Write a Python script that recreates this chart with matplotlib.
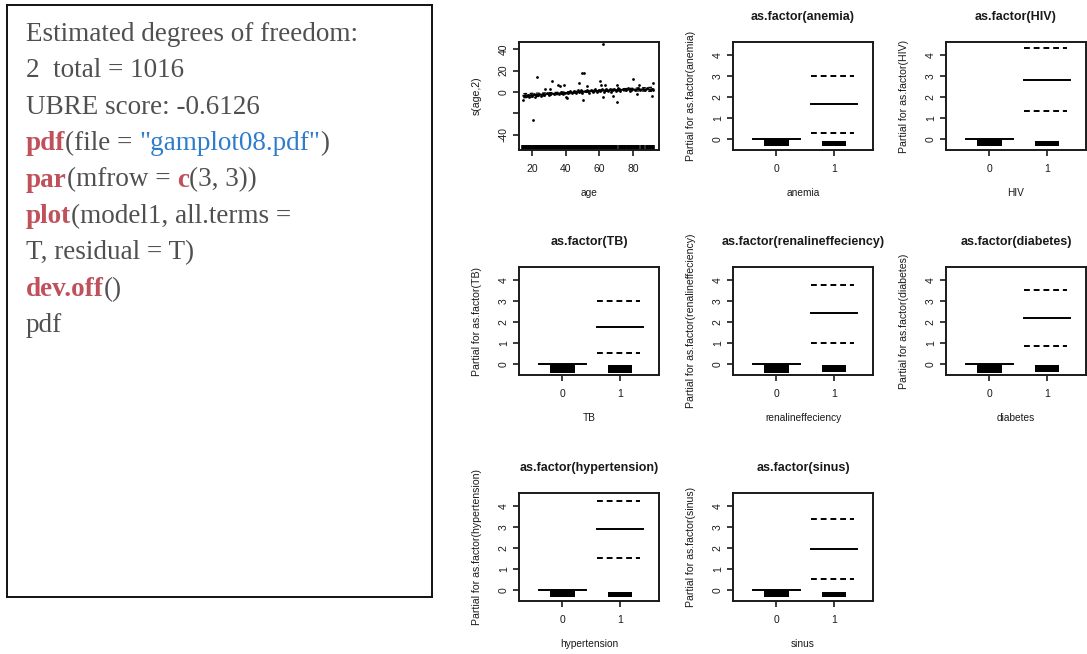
import matplotlib.pyplot as plt

W, H = 1087, 654

# listing printed next to the term plots
summary_lines = [
    [("Estimated degrees of freedom:", "txt")],
    [("2  total = 1016", "txt")],
    [("UBRE score: -0.6126", "txt")],
    [("pdf", "kw"), ("(file = ", "txt"), ('"gamplot08.pdf"', "str"), (")", "txt")],
    [("par", "kw"), ("(mfrow = ", "txt"), ("c", "kw"), ("(3, 3))", "txt")],
    [("plot", "kw"), ("(model1, all.terms =", "txt")],
    [("T, residual = T)", "txt")],
    [("dev.off", "kw"), ("()", "txt")],
    [("pdf", "txt")],
]
code_colors = {"txt": "#505050", "kw": "#c0505a", "str": "#2f7ccc"}

# smooth term s(age, 2)
fit_age = [15, 25, 35, 45, 55, 65, 75, 85, 92]
fit_sage = [-3.6, -2.6, -1.5, -0.4, 0.6, 1.4, 2.0, 2.3, 2.4]
fit_se = [2.0, 1.5, 1.1, 0.9, 0.8, 0.9, 1.1, 1.5, 2.0]
resid_age = [62.2, 22.9, 32.0, 49.5, 50.7, 35.4, 36.5, 38.8, 31.0, 28.0,
             48.2, 60.6, 63.2, 60.9, 70.6, 80.1, 92.0, 83.7, 52.4, 20.5,
             14.9, 50.4, 70.6, 40.4, 40.6, 61.9, 68.2, 82.1, 91.1,
             15.5, 16.2, 17.0, 17.8, 18.5, 19.3, 20.2, 21.0, 21.7, 23.0,
             24.1, 25.3, 26.5, 27.4, 29.0, 30.2, 31.5, 33.0, 34.2, 35.8,
             37.0, 38.3, 39.5, 41.2, 42.4, 43.6, 44.8, 45.9, 47.1, 48.0,
             49.2, 50.0, 51.3, 52.6, 53.7, 54.8, 56.0, 57.2, 58.3, 59.5,
             60.4, 61.5, 62.7, 63.8, 65.0, 66.2, 67.1, 68.5, 69.8, 71.2,
             72.5, 74.0, 75.5, 77.0, 78.4, 79.6, 81.2, 82.8, 84.3, 85.7,
             87.0, 88.4, 89.7, 91.0, 92.0]
resid_sage = [45.2, 14.1, 10.3, 18.0, 18.0, 6.7, 5.1, 6.7, 2.9, 2.9,
              8.3, 10.3, 6.7, 6.7, 6.7, 12.2, 8.3, 6.7, 5.1, -26.0,
              -7.7, -7.7, -9.6, -5.1, -5.8, -4.5, -3.8, -2.3, -3.8,
              -4.2, -3.1, -3.8, -2.5, -4.6, -3.0, -3.9, -2.2, -4.4, -3.3,
              -2.0, -3.6, -1.9, -3.0, -1.2, -2.8, -1.5, -2.4, -0.8, -1.9,
              -0.5, -2.2, -0.6, -1.4, 0.6, -1.2, 0.9, -0.9, 1.4, -0.2,
              1.8, -1.5, 0.4, 2.1, -0.6, 1.5, 0.2, 2.4, -0.3, 1.9,
              0.5, 3.0, 0.1, 2.3, 1.0, 3.1, 0.3, 2.5, 1.2, 3.3,
              0.8, 2.7, 1.5, 3.2, 1.0, 2.6, 1.7, 3.4, 1.3, 2.9,
              1.9, 3.3, 1.5, 2.8, 2.0]
rug_age = [15, 16, 17, 18, 19, 20, 21, 22, 23, 24, 25, 26, 27, 28, 29, 30,
           31, 32, 33, 34, 35, 36, 37, 38, 39, 40, 41, 42, 43, 44, 45, 46,
           47, 48, 49, 50, 51, 52, 53, 54, 55, 56, 57, 58, 59, 60, 61, 62,
           63, 64, 65, 66, 67, 68, 69, 70, 72, 73, 74, 75, 77, 78, 79, 80,
           81, 82, 83, 85, 86, 88, 89, 90, 91, 92]

# factor terms: level 0 is the reference (effect 0), level 1 estimated
factor_names = ["anemia", "HIV", "TB", "renalineffeciency", "diabetes",
                "hypertension", "sinus"]
factor_levels = ["0", "1"]
level1_fit = [1.67, 2.82, 1.75, 2.43, 2.20, 2.92, 1.98]
level1_upper = [3.00, 4.33, 3.00, 3.80, 3.55, 4.27, 3.40]
level1_lower = [0.30, 1.32, 0.53, 1.00, 0.88, 1.52, 0.54]
resid0_low = [-0.31, -0.31, -0.42, -0.42, -0.42, -0.34, -0.34]
resid1_low = [-0.31, -0.31, -0.42, -0.40, -0.40, -0.34, -0.34]
resid1_high = [-0.10, -0.08, -0.06, -0.06, -0.06, -0.08, -0.08]

INK = "#1a1a1a"
plt.rcParams["font.family"] = ["Liberation Sans", "DejaVu Sans"]

fig = plt.figure(figsize=(W / 100, H / 100), dpi=100)

# ---- left text box
box = fig.add_axes([7 / W, 1 - 597 / H, 425 / W, 592 / H])
box.set_xticks([])
box.set_yticks([])
for s in box.spines.values():
    s.set_linewidth(1.4)
    s.set_color("#111111")

for i, segments in enumerate(summary_lines):
    base = 41 + 36.4 * i
    prev = None
    for txt, kind in segments:
        style = dict(fontsize=19.5, family=["Liberation Serif", "DejaVu Serif"],
                     color=code_colors[kind],
                     fontweight="bold" if kind == "kw" else "normal")
        if prev is None:
            prev = fig.text(26 / W, 1 - base / H, txt, ha="left", va="baseline", **style)
        else:
            prev = box.annotate(txt, xy=(1, 0), xycoords=prev, ha="left",
                                va="bottom", annotation_clip=False, **style)


# ---- term plots in a 3x3 layout
col_left = [519, 733, 946]
row_top = [42, 267, 493]


def panel(col, row):
    left, top = col_left[col], row_top[row]
    return fig.add_axes([left / W, 1 - (top + 108) / H, 140 / W, 108 / H])


def r_style(ax, title, xlabel, ylabel):
    for s in ax.spines.values():
        s.set_linewidth(1.4)
        s.set_color(INK)
    ax.tick_params(direction="out", length=4.3, width=1.2, labelsize=7.5, colors=INK)
    ax.tick_params(axis="x", pad=6)
    ax.tick_params(axis="y", pad=3)
    if title:
        ax.text(0.5, 1.23, title, transform=ax.transAxes, ha="center",
                va="center", fontsize=9, fontweight="bold", color=INK)
    ax.text(0.5, -0.4, xlabel, transform=ax.transAxes, ha="center",
            va="center", fontsize=7.3, color=INK)
    ax.text(-0.3, 0.5, ylabel, transform=ax.transAxes, ha="center",
            va="center", rotation=90, fontsize=7.6, color=INK)


# s(age,2) with partial residuals and rug
ax = panel(0, 0)
ax.plot(fit_age, fit_sage, color="k", lw=1.4)
ax.plot(fit_age, [f + s for f, s in zip(fit_sage, fit_se)], color="k",
        lw=0.9, ls=(0, (3, 2)))
ax.plot(fit_age, [f - s for f, s in zip(fit_sage, fit_se)], color="k",
        lw=0.9, ls=(0, (3, 2)))
ax.scatter(resid_age, resid_sage, s=4, color="k", linewidths=0)
ax.vlines(rug_age, 0, 0.045, transform=ax.get_xaxis_transform(), color="k",
          lw=2.6, capstyle="butt")
ax.set_xlim(12.4, 95.3)
ax.set_ylim(-54.4, 46.7)
ax.set_xticks([20, 40, 60, 80])
ax.set_yticks([-40, -20, 0, 20, 40], ["-40", "", "0", "20", "40"],
              rotation=90, va="center")
r_style(ax, "", "age", "s(age,2)")

# factor effects
slots = [(1, 0), (2, 0), (0, 1), (1, 1), (2, 1), (0, 2), (1, 2)]
for k, name in enumerate(factor_names):
    ax = panel(*slots[k])
    ax.plot([-0.4, 0.4], [0, 0], color="k", lw=1.4)
    ax.plot([0.6, 1.4], [level1_fit[k]] * 2, color="k", lw=1.4)
    for band in (level1_upper[k], level1_lower[k]):
        ax.plot([0.6, 1.35], [band] * 2, color="k", lw=1.4, ls=(0, (3, 2)))
    ax.bar([0, 1], [0 - resid0_low[k], resid1_high[k] - resid1_low[k]],
           bottom=[resid0_low[k], resid1_low[k]], width=0.42, color="k")
    ax.set_xlim(-0.75, 1.67)
    ax.set_ylim(-0.52, 4.64)
    ax.set_xticks([0, 1], factor_levels)
    ax.set_yticks(range(5), [str(v) for v in range(5)], rotation=90, va="center")
    r_style(ax, f"as.factor({name})", name, f"Partial for as.factor({name})")

fig.savefig("out.png", dpi=100)
